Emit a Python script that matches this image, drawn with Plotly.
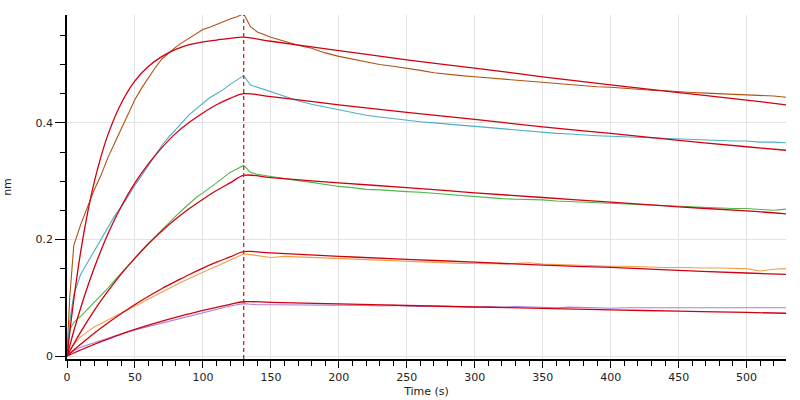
import plotly.graph_objects as go

# ---- time axes (s) ----
T_ASSOC = [0, 2, 5, 10, 15, 20, 25, 30, 35, 40, 45, 50, 55, 60, 65, 70, 75, 80, 85, 90,
           95, 100, 105, 110, 115, 120, 125, 130]
T_DISS = [135, 140, 150, 160, 170, 180, 190, 200, 210, 220, 230, 240, 250, 260, 270, 280,
          290, 300, 310, 320, 330, 340, 350, 360, 370, 380, 390, 400, 410, 420, 430, 440,
          450, 460, 470, 480, 490, 500, 510, 520, 529]
T_FIT = [0, 5, 10, 15, 20, 25, 30, 40, 50, 60, 70, 80, 90, 100, 110, 120, 130,
         150, 200, 250, 300, 350, 400, 450, 500, 529]
ASSOC_END = 130

# ---- measured responses (nm) ----
brown_a = [0.0, 0.10, 0.19, 0.225, 0.255, 0.285, 0.31, 0.34, 0.365, 0.39, 0.415, 0.44, 0.46,
           0.478, 0.495, 0.51, 0.52, 0.53, 0.538, 0.545, 0.553, 0.56, 0.564, 0.569, 0.574,
           0.578, 0.582, 0.587]
brown_d = [0.565, 0.556, 0.547, 0.540, 0.533, 0.528, 0.520, 0.514, 0.509, 0.504, 0.500, 0.497,
           0.494, 0.490, 0.486, 0.483, 0.481, 0.479, 0.477, 0.475, 0.473, 0.471, 0.469, 0.467,
           0.465, 0.464, 0.462, 0.461, 0.459, 0.457, 0.456, 0.455, 0.453, 0.452, 0.451, 0.450,
           0.449, 0.449, 0.447, 0.446, 0.444]
cyan_a = [0.0, 0.06, 0.105, 0.14, 0.16, 0.18, 0.20, 0.222, 0.24, 0.256, 0.275, 0.293, 0.31,
          0.327, 0.345, 0.362, 0.376, 0.389, 0.401, 0.414, 0.424, 0.434, 0.443, 0.450, 0.457,
          0.466, 0.473, 0.481]
cyan_d = [0.465, 0.461, 0.454, 0.445, 0.438, 0.432, 0.427, 0.422, 0.417, 0.413, 0.410, 0.407,
          0.405, 0.402, 0.400, 0.398, 0.396, 0.394, 0.391, 0.389, 0.387, 0.385, 0.384, 0.382,
          0.381, 0.379, 0.378, 0.377, 0.376, 0.375, 0.374, 0.373, 0.372, 0.371, 0.370, 0.370,
          0.369, 0.369, 0.367, 0.367, 0.366]
green_a = [0.0, 0.045, 0.058, 0.068, 0.08, 0.092, 0.104, 0.116, 0.13, 0.143, 0.155, 0.168,
           0.18, 0.193, 0.205, 0.217, 0.229, 0.24, 0.251, 0.262, 0.272, 0.28, 0.288, 0.297,
           0.306, 0.315, 0.321, 0.327]
green_d = [0.315, 0.312, 0.308, 0.304, 0.301, 0.298, 0.294, 0.291, 0.289, 0.286, 0.285, 0.283,
           0.282, 0.281, 0.279, 0.277, 0.275, 0.274, 0.272, 0.270, 0.269, 0.269, 0.268, 0.266,
           0.265, 0.264, 0.262, 0.261, 0.260, 0.259, 0.258, 0.257, 0.256, 0.256, 0.255, 0.254,
           0.253, 0.253, 0.251, 0.250, 0.252]
orange_a = [0.0, 0.01, 0.02, 0.033, 0.042, 0.05, 0.056, 0.062, 0.068, 0.075, 0.081, 0.087,
            0.093, 0.099, 0.105, 0.111, 0.117, 0.122, 0.128, 0.133, 0.139, 0.144, 0.149,
            0.154, 0.159, 0.164, 0.169, 0.175]
orange_d = [0.174, 0.172, 0.169, 0.171, 0.170, 0.169, 0.168, 0.168, 0.166, 0.165, 0.164, 0.163,
            0.162, 0.161, 0.161, 0.160, 0.159, 0.159, 0.158, 0.158, 0.159, 0.160, 0.158, 0.157,
            0.156, 0.156, 0.155, 0.154, 0.154, 0.153, 0.153, 0.152, 0.152, 0.151, 0.151, 0.151,
            0.150, 0.150, 0.146, 0.149, 0.150]
purple_a = [0.0, 0.004, 0.009, 0.015, 0.019, 0.023, 0.027, 0.031, 0.035, 0.038, 0.042, 0.045,
            0.048, 0.051, 0.054, 0.057, 0.060, 0.063, 0.066, 0.069, 0.072, 0.075, 0.078,
            0.081, 0.083, 0.086, 0.088, 0.090]
purple_d = [0.089, 0.088, 0.088, 0.088, 0.087, 0.088, 0.087, 0.088, 0.087, 0.087, 0.086, 0.087,
            0.086, 0.085, 0.086, 0.085, 0.084, 0.084, 0.085, 0.084, 0.085, 0.084, 0.084, 0.083,
            0.084, 0.083, 0.083, 0.082, 0.083, 0.083, 0.082, 0.083, 0.082, 0.082, 0.083, 0.082,
            0.082, 0.083, 0.082, 0.083, 0.083]

# ---- fitted curves (nm), read at T_FIT ----
fit_brown = [0.0, 0.097, 0.178, 0.244, 0.298, 0.342, 0.379, 0.434, 0.472, 0.497, 0.514, 0.526,
             0.534, 0.539, 0.542, 0.545, 0.547, 0.540, 0.524, 0.508, 0.494, 0.479, 0.465,
             0.452, 0.439, 0.431]
fit_cyan = [0.0, 0.043, 0.082, 0.118, 0.151, 0.181, 0.209, 0.257, 0.297, 0.330, 0.358, 0.382,
            0.401, 0.417, 0.431, 0.442, 0.450, 0.445, 0.431, 0.418, 0.406, 0.393, 0.382,
            0.370, 0.359, 0.353]
fit_green = [0.0, 0.021, 0.041, 0.060, 0.078, 0.095, 0.111, 0.141, 0.168, 0.193, 0.215, 0.235,
             0.253, 0.269, 0.284, 0.297, 0.310, 0.306, 0.297, 0.289, 0.280, 0.272, 0.264,
             0.256, 0.249, 0.244]
fit_orange = [0.0, 0.0103, 0.0202, 0.0298, 0.0391, 0.048, 0.0567, 0.073, 0.0884, 0.1026, 0.116,
              0.128, 0.140, 0.151, 0.161, 0.170, 0.179, 0.177, 0.171, 0.166, 0.161, 0.156,
              0.152, 0.147, 0.1425, 0.140]
fit_purple = [0.0, 0.0053, 0.0104, 0.0153, 0.0201, 0.0248, 0.0292, 0.0377, 0.0457, 0.0531,
              0.060, 0.0665, 0.0726, 0.0783, 0.0836, 0.0886, 0.0932, 0.0921, 0.0894, 0.0868,
              0.0842, 0.0817, 0.0793, 0.0770, 0.0748, 0.0735]

Y_TICKS = [0, 0.2, 0.4]
Y_TICK_TEXT = ["0", "0.2", "0.4"]
X_TICKS = [0, 50, 100, 150, 200, 250, 300, 350, 400, 450, 500]

series = [
    (brown_a + brown_d, "#B0520F"),
    (cyan_a + cyan_d, "#4AAFC4"),
    (green_a + green_d, "#4DB847"),
    (orange_a + orange_d, "#F2A046"),
    (purple_a + purple_d, "#B07CD8"),
]
fits = [fit_brown, fit_cyan, fit_green, fit_orange, fit_purple]

T_DATA = T_ASSOC + T_DISS
fig = go.Figure()
for ys, col in series:
    fig.add_trace(go.Scatter(x=T_DATA, y=ys, mode="lines",
                             line=dict(color=col, width=1.1), showlegend=False))
for ys in fits:
    fig.add_trace(go.Scatter(x=T_FIT, y=ys, mode="lines", line_shape="spline",
                             line=dict(color="#D00010", width=1.3), showlegend=False))

fig.add_trace(go.Scatter(x=[ASSOC_END, ASSOC_END], y=[-0.005, 0.585], mode="lines",
                         line=dict(color="#B8321E", width=1.3, dash="4px,3px"),
                         showlegend=False))

font = dict(family="DejaVu Sans, Verdana, sans-serif", size=11, color="#222")
fig.update_layout(
    width=800, height=400,
    margin=dict(l=67, r=14, t=15, b=41),
    paper_bgcolor="white", plot_bgcolor="white",
    font=font,
    xaxis=dict(range=[0, 529], tickvals=X_TICKS, ticks="outside", ticklen=7,
               tickcolor="black", showline=True, linecolor="black", linewidth=1.5,
               showgrid=True, gridcolor="#e3e3e3", gridwidth=1, zeroline=False,
               automargin=False,
               minor=dict(dtick=10, tick0=0, ticks="outside", ticklen=5,
                          tickcolor="black", showgrid=False),
               title=dict(text="Time (s)", standoff=4, font=font)),
    yaxis=dict(range=[-0.005, 0.585], tickvals=Y_TICKS, ticktext=Y_TICK_TEXT,
               ticks="outside", ticklen=10, tickcolor="black",
               showline=True, linecolor="black", linewidth=1.5,
               showgrid=True, gridcolor="#e3e3e3", gridwidth=1, zeroline=False,
               automargin=False,
               minor=dict(dtick=0.05, tick0=0, ticks="outside", ticklen=5,
                          tickcolor="black", showgrid=False),
               title=dict(text="nm", standoff=22, font=font)),
)
fig.write_html("out.html")
